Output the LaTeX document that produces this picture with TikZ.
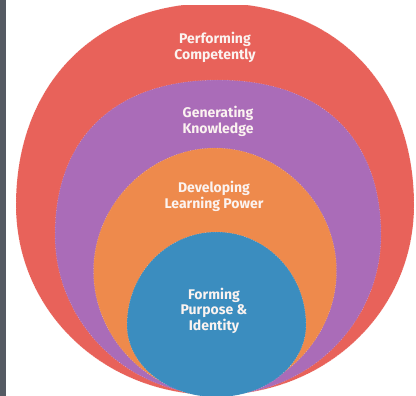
\documentclass[tikz,border=0pt]{standalone}
\usepackage{fontspec}
\setmainfont{Fira Sans}
\definecolor{ringred}{HTML}{E8625A}
\definecolor{ringpurple}{HTML}{AA6CB8}
\definecolor{ringorange}{HTML}{EE8A4C}
\definecolor{ringblue}{HTML}{3B8DBF}
\definecolor{edgegray}{HTML}{555A63}
\definecolor{labelwhite}{HTML}{FBF3F0}
% Egg-like closed curve: #1 centre x, #2 y of widest point, #3 half width,
% #4 top y, #5 bottom y, #6 top roundness, #7 bottom roundness, #8 style
\newcommand\eggfill[8]{%
  \path[#8] ({#1-#3},{#2})
    .. controls ({#1-#3},{#2-#6*(#2-#4)}) and ({#1-#6*#3},{#4}) .. ({#1},{#4})
    .. controls ({#1+#6*#3},{#4}) and ({#1+#3},{#2-#6*(#2-#4)}) .. ({#1+#3},{#2})
    .. controls ({#1+#3},{#2+#7*(#5-#2)}) and ({#1+#7*#3},{#5}) .. ({#1},{#5})
    .. controls ({#1-#7*#3},{#5}) and ({#1-#3},{#2+#7*(#5-#2)}) .. cycle;}
\tikzset{
  ring/.style={fill=#1, draw=white, draw opacity=0.6, dotted, line width=0.45pt},
  ringlabel/.style={text=labelwhite, align=center, inner sep=0pt,
    font=\bfseries\fontsize{14}{15.5}\selectfont}
}
\begin{document}
\begin{tikzpicture}[x=1pt, y=-1pt]
  \useasboundingbox (0,0) rectangle (416,396);
  \fill[white] (0,0) rectangle (416,396);
  \fill[edgegray] (0,0) rectangle (6,396);
  \begin{scope}
    \clip (6,6) rectangle (416,396);
    \eggfill{215}{205}{199}{3}{395}{0.60}{0.56}{ring=ringred}
    \eggfill{218}{235}{163}{80}{395}{0.63}{0.5523}{ring=ringpurple}
    \eggfill{215}{271}{121.5}{148}{395}{0.54}{0.54}{ring=ringorange}
    \eggfill{216.5}{325}{89.5}{232}{397}{0.5523}{0.5523}{ring=ringblue}
  \end{scope}
  \node[ringlabel] (perf) at (215,47.3) {Performing\\Competently};
  \node[ringlabel] (gen) at (218,121.3) {Generating\\Knowledge};
  \node[ringlabel] (dev) at (214,196.3) {Developing\\Learning Power};
  \node[ringlabel] (form) at (214,310.8) {Forming\\Purpose \&\\Identity};
\end{tikzpicture}
\end{document}
